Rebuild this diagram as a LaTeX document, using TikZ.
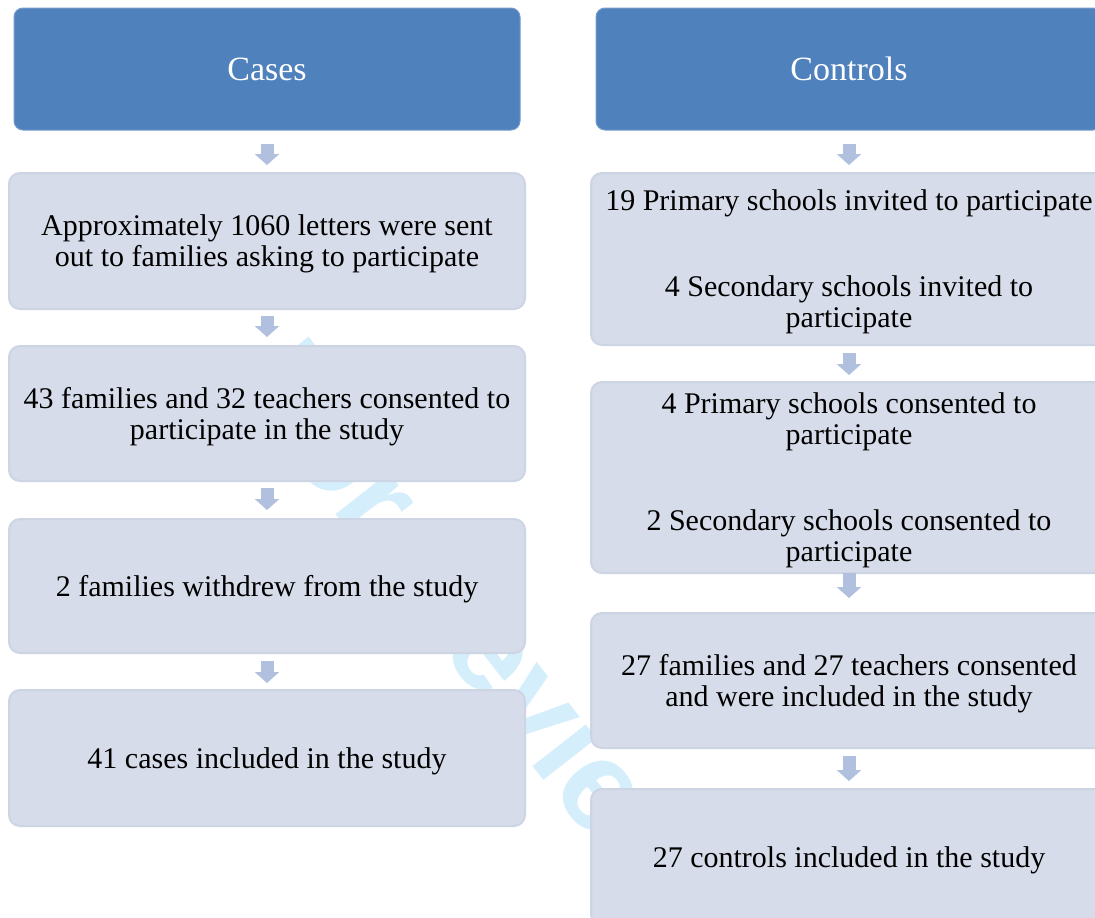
\documentclass[tikz,border=0pt]{standalone}
\usepackage{fontspec}
\setmainfont{Liberation Serif}
\newfontfamily\wmfont{Liberation Sans}
\usetikzlibrary{arrows.meta,backgrounds}
\definecolor{hdrblue}{RGB}{79,129,189}
\definecolor{hdrline}{RGB}{118,154,204}
\definecolor{boxfill}{RGB}{214,220,233}
\definecolor{boxline}{RGB}{205,213,229}
\definecolor{arrowc}{RGB}{176,192,222}
\definecolor{wmark}{RGB}{212,238,251}
\begin{document}
\begin{tikzpicture}[x=1pt,y=-1pt,
  hdr/.style={draw=hdrline, line width=1pt, fill=hdrblue, rounded corners=9pt,
    minimum width=506pt, minimum height=122pt, inner sep=0pt, text=white,
    font=\fontsize{34}{40}\selectfont},
  stage/.style={minimum width=516pt, inner sep=0pt, outer sep=1pt, align=center,
    font=\fontsize{30}{31}\selectfont},
  stagebox/.style={draw=boxline, line width=2pt, fill=boxfill, rounded corners=11pt},
  flow/.style={draw=arrowc, line width=13pt, -{Triangle[width=24pt,length=11pt]}}
]
\useasboundingbox (0,0) rectangle (1095,918);
\clip (0,0) rectangle (1095,918);
% left column (text nodes; boxes drawn behind them)
\node[hdr] (ch) at (267,69) {Cases};
\node[stage, minimum height=134pt] (c1) at (267,244) {Approximately 1060 letters were sent\\out to families asking to participate};
\node[stage, minimum height=133pt] (c2) at (267,416.5) {43 families and 32 teachers consented to\\participate in the study};
\node[stage, minimum height=132pt] (c3) at (267,589) {2 families withdrew from the study};
\node[stage, minimum height=134pt] (c4) at (267,761) {41 cases included in the study};
% right column
\node[hdr] (kh) at (849,69) {Controls};
\node[stage, minimum height=170pt] (k1) at (849,262) {19 Primary schools invited to participate\\[55pt]4 Secondary schools invited to\\participate};
\node[stage, minimum height=189pt] (k2) at (849,480.5) {4 Primary schools consented to\\participate\\[55pt]2 Secondary schools consented to\\participate};
\node[stage, minimum height=133pt] (k3) at (849,683.5) {27 families and 27 teachers consented\\and were included in the study};
\node[stage, minimum height=134pt] (k4) at (849,860) {27 controls included in the study};
\begin{pgfonlayer}{background}
\fill[white] (0,0) rectangle (1095,918);
\node[rotate=-52, anchor=base west, inner sep=0pt, text=wmark,
  font=\wmfont\bfseries\fontsize{128}{128}\selectfont] (wm) at (234,384) {For Review Only};
\foreach \n in {c1,c2,c3,c4,k1,k2,k3,k4}
  \draw[stagebox] ([yshift=3pt,xshift=1pt]\n.north west) rectangle ([yshift=3pt,xshift=-1pt]\n.south east);
\end{pgfonlayer}
% arrows
\draw[flow, shorten <=13pt, shorten >=11pt] (ch) -- (c1);
\draw[flow, shorten <=4pt, shorten >=12pt] (c1) -- (c2);
\draw[flow, shorten <=4pt, shorten >=12pt] (c2) -- (c3);
\draw[flow, shorten <=5pt, shorten >=10pt] (c3) -- (c4);
\draw[flow, shorten <=13pt, shorten >=11pt] (kh) -- (k1);
\draw[flow, shorten <=5pt, shorten >=10pt] (k1) -- (k2);
\draw[flow, shorten <=-3pt, shorten >=18pt] (k2) -- (k3);
\draw[flow, shorten <=5pt, shorten >=11pt] (k3) -- (k4);
\end{tikzpicture}
\end{document}
